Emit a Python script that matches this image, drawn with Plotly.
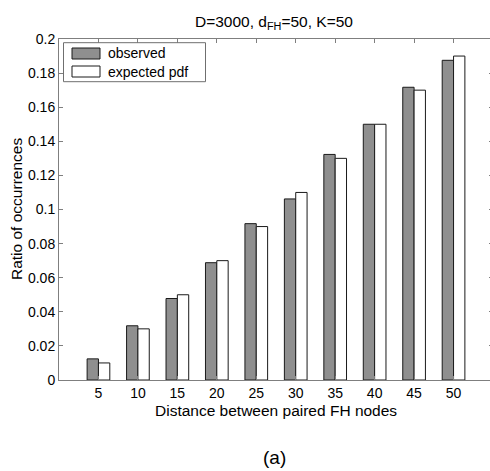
import plotly.graph_objects as go

# ---- data ----
distances = [5, 10, 15, 20, 25, 30, 35, 40, 45, 50]
observed = [0.0124, 0.0318, 0.0478, 0.0688, 0.0917, 0.1062, 0.1323, 0.150, 0.1717, 0.1875]
expected_pdf = [0.010, 0.030, 0.050, 0.070, 0.090, 0.110, 0.130, 0.150, 0.170, 0.190]
y_ticks = [0, 0.02, 0.04, 0.06, 0.08, 0.1, 0.12, 0.14, 0.16, 0.18, 0.2]
y_tick_labels = ["0", "0.02", "0.04", "0.06", "0.08", "0.1", "0.12", "0.14", "0.16", "0.18", "0.2"]
series_names = ["observed", "expected pdf"]

W, H = 493, 471
L, T, R, B = 59, 39, 0, 91
PW, PH = W - L - R, H - T - B
FONT = "Liberation Sans, Arial, sans-serif"
AXC = "#7f7f7f"

def px(x):
    return (x - L) / PW

def py(y):
    return (H - B - y) / PH

fig = go.Figure()
fig.add_trace(go.Bar(x=distances, y=observed, name=series_names[0],
                     marker=dict(color="#8f8f8f", line=dict(color="#1a1a1a", width=1))))
fig.add_trace(go.Bar(x=distances, y=expected_pdf, name=series_names[1],
                     marker=dict(color="#ffffff", line=dict(color="#1a1a1a", width=1))))

shapes = []
annotations = []
# legend box
shapes.append(dict(type="rect", xref="paper", yref="paper",
                   x0=px(63.5), x1=px(205.5), y0=py(81.7), y1=py(42.7),
                   line=dict(color="#6f6f6f", width=1), fillcolor="white", layer="above"))
for i, (nm, col) in enumerate(zip(series_names, ["#8f8f8f", "#ffffff"])):
    yc = 53.5 + 18 * i
    shapes.append(dict(type="rect", xref="paper", yref="paper",
                       x0=px(72), x1=px(100), y0=py(yc + 5.5), y1=py(yc - 5.5),
                       line=dict(color="#1a1a1a", width=1), fillcolor=col, layer="above"))
    annotations.append(dict(text=nm, xref="paper", yref="paper", x=px(106), y=py(yc),
                            xanchor="left", yanchor="middle", showarrow=False,
                            font=dict(size=14, color="black", family=FONT)))

annotations.append(dict(text="D=3000, d<sub>FH</sub>=50, K=50", xref="paper", yref="paper",
                        x=px(274), y=py(22), xanchor="center", yanchor="middle",
                        showarrow=False, font=dict(size=15.5, color="black", family=FONT)))
annotations.append(dict(text="Distance between paired FH nodes", xref="paper", yref="paper",
                        x=px(276), y=py(410), xanchor="center", yanchor="middle",
                        showarrow=False, font=dict(size=15.5, color="black", family=FONT)))
annotations.append(dict(text="Ratio of occurrences", xref="paper", yref="paper",
                        x=px(16), y=py(209), xanchor="center", yanchor="middle", textangle=-90,
                        showarrow=False, font=dict(size=15.5, color="black", family=FONT)))
annotations.append(dict(text="(a)", xref="paper", yref="paper",
                        x=px(274), y=py(457), xanchor="center", yanchor="middle",
                        showarrow=False, font=dict(size=19, color="black", family=FONT)))

fig.update_layout(
    width=W, height=H, autosize=False,
    margin=dict(l=L, r=R, t=T, b=B, pad=0),
    paper_bgcolor="white", plot_bgcolor="white",
    barmode="group", bargap=0.425, bargroupgap=0,
    showlegend=False,
    font=dict(family=FONT, size=14, color="black"),
    shapes=shapes, annotations=annotations,
    xaxis=dict(range=[0, 55], tickmode="array", tickvals=distances,
               ticks="inside", ticklen=4, tickcolor=AXC, showline=True, linecolor=AXC,
               mirror="ticks", showgrid=False, zeroline=False,
               tickfont=dict(size=14, color="black", family=FONT)),
    yaxis=dict(range=[0, 0.2], tickmode="array", tickvals=y_ticks, ticktext=y_tick_labels,
               ticks="inside", ticklen=4, tickcolor=AXC, showline=True, linecolor=AXC,
               mirror="ticks", showgrid=False, zeroline=False,
               tickfont=dict(size=14, color="black", family=FONT)),
)

fig.write_html(
    "out.html",
    config={"displayModeBar": False},
    post_script=(
        "document.body.style.margin='0';"
        "document.body.style.overflow='hidden';"
        "document.documentElement.style.overflow='hidden';"
    ),
)
